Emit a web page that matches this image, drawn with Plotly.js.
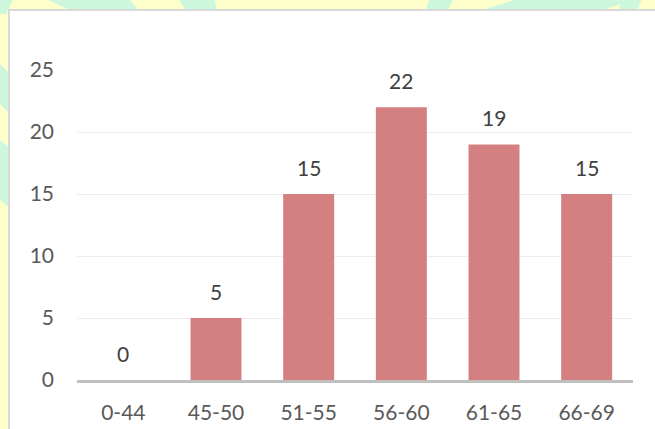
<!DOCTYPE html>
<html>
<head>
<meta charset="utf-8">
<script src="https://cdn.plot.ly/plotly-3.0.1.min.js"></script>
<style>
  html, body { margin: 0; padding: 0; background: #ffffcc; }
  #chart { width: 655px; height: 429px; }
</style>
</head>
<body>
<div id="chart"></div>
<script>
// Age groups and the number of people in each
const ageGroups = ['0-44', '45-50', '51-55', '56-60', '61-65', '66-69'];
const counts = [0, 5, 15, 22, 19, 15];
const yTicks = [0, 5, 10, 15, 20, 25];

const W = 655, H = 429;
const M = { l: 77, r: 22, t: 70, b: 49 };
const PW = W - M.l - M.r, PH = H - M.t - M.b;
// pixel -> paper coordinates for the decorative frame
const px = x => (x - M.l) / PW;
const py = y => (H - M.b - y) / PH;

function poly(points, color) {
  const d = points.map((p, i) => (i ? 'L' : 'M') + px(p[0]) + ',' + py(p[1])).join(' ') + ' Z';
  return { type: 'path', xref: 'paper', yref: 'paper', path: d, fillcolor: color,
           line: { width: 0 }, layer: 'below' };
}

const mint = '#ccf7dd';
const shapes = [
  // mint swirls of the page background
  poly([[0, -2], [14, -2], [6, 14], [0, 14]], mint),
  poly([[44, -2], [128, -2], [142, 14], [78, 14]], mint),
  poly([[178, -2], [214, -2], [218, 14], [188, 14]], mint),
  poly([[430, -2], [454, -2], [446, 14], [424, 14]], mint),
  poly([[520, -2], [640, -2], [590, 14], [470, 14]], mint),
  poly([[624, -2], [642, -2], [636, 14], [616, 14]], mint),
  poly([[-2, 62], [12, 76], [12, 116], [-2, 102]], mint),
  poly([[-2, 138], [12, 150], [12, 210], [-2, 198]], mint),
  // white chart panel with a light grey frame
  { type: 'rect', xref: 'paper', yref: 'paper', x0: px(9), y0: py(440), x1: px(670), y1: py(10),
    fillcolor: '#ffffff', line: { color: '#d9d9d9', width: 2 }, layer: 'below' }
];

const annotations = ageGroups.map((g, i) => ({
  x: g, y: counts[i], xref: 'x', yref: 'y',
  text: String(counts[i]), showarrow: false,
  yanchor: 'bottom', yshift: 12,
  font: { family: 'Lato, sans-serif', size: 21, color: '#404040' }
}));

const trace = {
  type: 'bar',
  x: ageGroups,
  y: counts,
  marker: { color: 'rgb(212,128,128)', line: { width: 0 } },
  hoverinfo: 'x+y'
};

const layout = {
  width: W, height: H,
  margin: M,
  paper_bgcolor: '#ffffcc',
  plot_bgcolor: 'rgba(0,0,0,0)',
  showlegend: false,
  bargap: 0.45,
  font: { family: 'Lato, sans-serif', size: 21, color: '#595959' },
  xaxis: {
    type: 'category',
    showgrid: false,
    showline: true, linecolor: '#bfbfbf', linewidth: 3,
    ticks: '', ticklabelstandoff: 12,
    tickfont: { family: 'Lato, sans-serif', size: 21, color: '#595959' },
    fixedrange: true
  },
  yaxis: {
    range: [0, 25],
    tickvals: yTicks,
    ticktext: yTicks.map(String),
    showgrid: true, gridcolor: '#ececec', gridwidth: 1,
    zeroline: false, showline: false,
    ticks: '', ticklabelstandoff: 22,
    tickfont: { family: 'Lato, sans-serif', size: 21, color: '#595959' },
    fixedrange: true
  },
  shapes: shapes,
  annotations: annotations
};

Plotly.newPlot('chart', [trace], layout, { displayModeBar: false, staticPlot: true });
</script>
</body>
</html>
